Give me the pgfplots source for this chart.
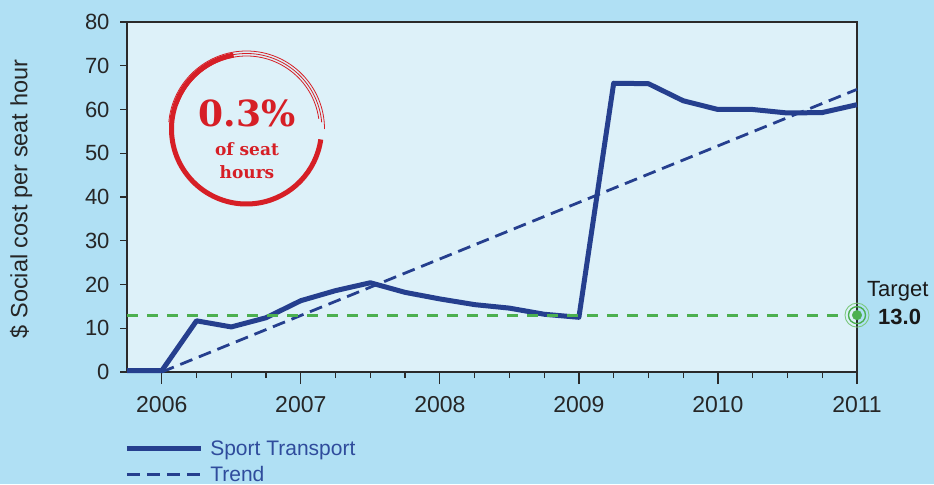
\documentclass[border=0pt]{standalone}
\usepackage{pgfplots}
\pgfplotsset{compat=1.18}
\usepackage{fontspec}
\setmainfont{Liberation Sans}
\newfontfamily\slab{DejaVu Serif}
\definecolor{navy}{HTML}{253F8E}
\definecolor{legblue}{HTML}{2F4C9C}
\definecolor{tgreen}{HTML}{4CB050}
\definecolor{tgreenlt}{HTML}{7CC97E}
\definecolor{bgout}{HTML}{B0E0F4}
\definecolor{bgin}{HTML}{DDF1F9}
\definecolor{axgray}{HTML}{2A2A2A}
\definecolor{badgered}{HTML}{D61F26}
\begin{document}
\begin{tikzpicture}[x=1pt,y=1pt]
\fill[bgout] (0,0) rectangle (934,484);
\begin{axis}[
  at={(127pt,112pt)}, anchor=south west,
  scale only axis, width=730pt, height=350pt,
  xmin=2005.75, xmax=2011, ymin=0, ymax=80,
  clip=false,
  axis background/.style={fill=bgin},
  axis line style={draw=axgray, line width=1.3pt},
  xtick={2006,2007,2008,2009,2010,2011},
  xticklabels={},
  extra x ticks={2006,2007,2008,2009,2010,2011},
  extra x tick style={major tick length=12pt,
     x tick label style={/pgf/number format/1000 sep={}, font=\fontsize{23pt}{25pt}\selectfont, text=black!85, yshift=-9pt}},
  minor xtick={2006.25,2006.5,2006.75,2007.25,2007.5,2007.75,2008.25,2008.5,2008.75,2009.25,2009.5,2009.75,2010.25,2010.5,2010.75},
  ytick={0,10,...,80},
  xtick pos=left, ytick pos=left,
  tick align=outside,
  major tick length=7pt, minor tick length=6pt,
  tick style={draw=axgray, line width=1.2pt},
  /pgf/number format/assume math mode=true,
  y tick label style={font=\fontsize{22pt}{25pt}\selectfont, text=black!85, xshift=-7pt},
  legend style={at={(-0.004,-0.19)}, anchor=north west, draw=none, fill=none,
    font=\fontsize{21pt}{23pt}\selectfont, text=legblue, inner sep=0pt,
    row sep=5pt, cells={anchor=west}},
  legend image code/.code={\draw[#1] (0pt,0pt) -- (74pt,0pt); \path (79pt,0pt);},
]
\addplot[navy, line width=5pt, line join=round] coordinates {
 (2005.75,0.3) (2006.0,0.3) (2006.25,11.7) (2006.5,10.3) (2006.75,12.4)
 (2007.0,16.3) (2007.25,18.6) (2007.5,20.4) (2007.75,18.2) (2008.0,16.7)
 (2008.25,15.4) (2008.5,14.6) (2008.75,13.2) (2009.0,12.5) (2009.25,66.0)
 (2009.5,65.9) (2009.75,62.0) (2010.0,60.0) (2010.25,60.0) (2010.5,59.2)
 (2010.75,59.3) (2011.0,61.1)};
\addlegendentry{Sport Transport}
\addplot[navy, line width=2.8pt, dash pattern=on 13pt off 7pt] coordinates {(2006,0) (2011,64.6)};
\addlegendentry{Trend}
\addplot[tgreen, line width=2.8pt, dash pattern=on 11pt off 9pt, forget plot] coordinates {(2005.75,13) (2010.92,13)};
\addplot[only marks, mark=o, mark size=12pt, tgreenlt, mark options={line width=0.9pt}, forget plot] coordinates {(2011,13)};
\addplot[only marks, mark=o, mark size=8.5pt, tgreen, mark options={line width=1.4pt}, forget plot] coordinates {(2011,13)};
\addplot[only marks, mark=*, mark size=4.8pt, tgreen, forget plot] coordinates {(2011,13)};
\end{axis}
% y label
\node[rotate=90, anchor=center, text=black!85, font=\fontsize{23.5pt}{26pt}\selectfont] at (21,285) {\$ Social cost per seat hour};
% target label
\node[anchor=base west, inner sep=0pt, text=black!90, font=\fontsize{22pt}{24pt}\selectfont] at (867,187.5) {Target};
\node[anchor=base west, inner sep=0pt, text=black!90, font=\fontsize{22pt}{24pt}\selectfont\bfseries] at (878,159) {13.0};
% badge
\draw[badgered, line width=5pt] (246.5,355) ++(100:75) arc[start angle=100, end angle=352, radius=75];
\draw[badgered, line width=0.8pt] (246.5,355) ++(0:78) arc[start angle=0, end angle=175, radius=78];
\draw[badgered, line width=0.8pt] (246.5,355) ++(5:75.5) arc[start angle=5, end angle=170, radius=75.5];
\draw[badgered, line width=0.8pt] (246.5,355) ++(8:73) arc[start angle=8, end angle=160, radius=73];
\node[anchor=base, inner sep=0pt, text=badgered, font=\slab\bfseries\fontsize{36pt}{38pt}\selectfont] at (247,357.3) {0.3\%};
\node[anchor=base, inner sep=0pt, text=badgered, font=\slab\bfseries\fontsize{17pt}{19pt}\selectfont] at (247,328) {of seat};
\node[anchor=base, inner sep=0pt, text=badgered, font=\slab\bfseries\fontsize{17pt}{19pt}\selectfont] at (247,305) {hours};
\end{tikzpicture}
\end{document}
